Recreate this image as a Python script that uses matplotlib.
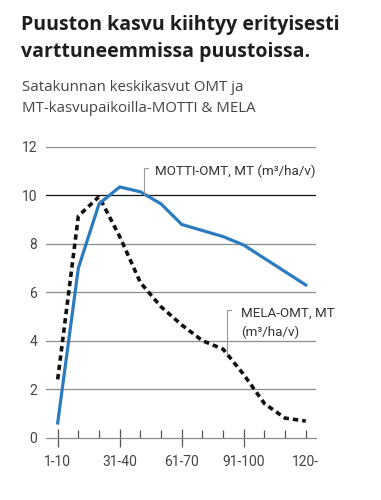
import numpy as np
import matplotlib

matplotlib.use("Agg")
import matplotlib.pyplot as plt

plt.rcParams["font.family"] = ["Roboto", "DejaVu Sans"]

# age classes (years) and mean growth, m3/ha/v
AGE = ["1-10", "11-20", "21-30", "31-40", "41-50", "51-60", "61-70",
       "71-80", "81-90", "91-100", "101-110", "111-120", "120-"]
MOTTI = [0.6, 7.0, 9.65, 10.35, 10.15, 9.65, 8.8, 8.55, 8.3, 7.95, 7.4, 6.85, 6.3]
MELA = [2.4, 9.15, 9.95, 8.3, 6.4, 5.4, 4.65, 4.0, 3.65, 2.6, 1.4, 0.8, 0.68]
YTICKS = [0, 2, 4, 6, 8, 10, 12]
XLABELED = [0, 3, 6, 9, 12]

BLUE = "#2c7bbf"
GRID = "#8c8c8c"
TXT = "#333333"
HEAD = ["Open Sans", "DejaVu Sans"]

W, H = 381, 500
fig = plt.figure(figsize=(W / 100, H / 100), dpi=100)

# axes placed in pixel terms of the reference
ax = fig.add_axes([45.7 / W, 1 - 437.5 / H, (315.7 - 45.7) / W, (437.5 - 147) / H])
x = np.arange(len(AGE))

ax.set_xlim(-0.58, 12.48)
ax.set_ylim(0, 12)

for v in YTICKS[1:]:
    ax.axhline(v, color="#111111" if v == 10 else GRID, lw=0.9, zorder=1)

ax.plot(x, MELA, color="#111111", lw=2.6, ls=(0, (1.5, 1.1)), zorder=3,
        solid_capstyle="butt", clip_on=False)
ax.plot(x, MOTTI, color=BLUE, lw=2.3, zorder=4, solid_joinstyle="miter",
        clip_on=False)

for s in ["top", "right", "left"]:
    ax.spines[s].set_visible(False)
ax.spines["bottom"].set_color(GRID)
ax.spines["bottom"].set_linewidth(0.9)

ax.set_yticks(YTICKS)
ax.set_yticklabels([str(v) for v in YTICKS])
ax.tick_params(axis="y", length=0, pad=6.0, labelsize=10, labelcolor="#444444")

major = [i for i in XLABELED if i != 12]
minor = [i for i in x if i not in major]
ax.set_xticks(major)
ax.set_xticklabels([AGE[i] for i in major])
ax.set_xticks(minor, minor=True)
ax.set_xticklabels([AGE[i] if i in XLABELED else "" for i in minor], minor=True)
ax.tick_params(axis="x", which="major", direction="inout", length=13.5, width=0.9,
               color="#555555", pad=5.6, labelsize=10, labelcolor="#444444")
ax.tick_params(axis="x", which="minor", direction="in", length=5.8, width=0.9,
               color="#555555", pad=12.4, labelsize=10, labelcolor="#444444")

# callout brackets
def bracket(xp, ytop, xtext, lines, dy):
    ycurve = np.interp(xp, x, lines[0])
    ax.plot([xp, xp, xp + 0.18], [ycurve, ytop, ytop], color="#999999", lw=0.8,
            zorder=5, solid_joinstyle="miter")
    for k, t in enumerate(lines[1]):
        ax.text(xtext, ytop - 0.13 - k * dy, t, fontsize=9.6, color=TXT,
                va="center", ha="left", zorder=6)

bracket(4.19, 11.13, 4.71, (MOTTI, ["MOTTI-OMT, MT (m³/ha/v)"]), 0)
bracket(8.2, 5.25, 8.85, (MELA, ["MELA-OMT, MT", "(m³/ha/v)"]), 0.76)

fig.text(21 / W, 1 - 25 / H, "Puuston kasvu kiihtyy erityisesti", fontsize=14,
         fontweight="bold", family=HEAD, color="#1e1e1e", va="center", ha="left")
fig.text(21 / W, 1 - 52 / H, "varttuneemmissa puustoissa.", fontsize=14,
         fontweight="bold", family=HEAD, color="#1e1e1e", va="center", ha="left")
fig.text(22 / W, 1 - 88 / H, "Satakunnan keskikasvut OMT ja", fontsize=10.8,
         family=HEAD, color="#444444", va="center", ha="left")
fig.text(22 / W, 1 - 108 / H, "MT-kasvupaikoilla-MOTTI & MELA", fontsize=10.8,
         family=HEAD, color="#444444", va="center", ha="left")

fig.savefig("out.png", dpi=100)
